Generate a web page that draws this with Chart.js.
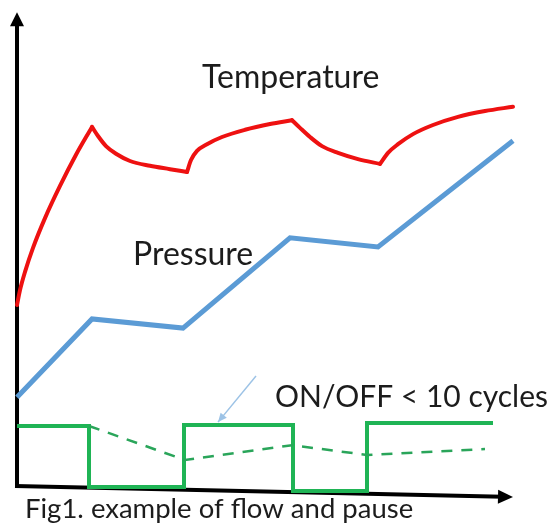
<!DOCTYPE html>
<html>
<head>
<meta charset="utf-8">
<script src="https://cdn.jsdelivr.net/npm/chart.js@4.4.1/dist/chart.umd.min.js"></script>
<style>
  html, body { margin: 0; padding: 0; background: #fff; }
</style>
</head>
<body>
<canvas id="flow" width="554" height="527"></canvas>
<script>
// values (time 0-100, level 0-100)
const tempX = [0, 0.6, 1.6, 3.2, 5.6, 8.6, 11.8, 15.0,
  16.2, 17.8, 19.8, 22.6, 26.6, 30.6, 34.0,
  34.8, 36.0, 38.0, 41.0, 45.6, 50.6, 55.0,
  56.6, 58.6, 61.0, 64.2, 68.2, 72.6,
  74.2, 76.2, 79.2, 83.2, 88.2, 93.6, 99.2];
const tempY = [40.0, 43.1, 46.9, 51.9, 58.1, 64.8, 71.3, 77.1,
  75.2, 73.1, 71.5, 70.0, 69.0, 68.3, 67.7,
  70.2, 72.1, 73.5, 75.0, 76.5, 77.7, 78.5,
  76.9, 75.0, 73.1, 71.7, 70.4, 69.4,
  71.7, 73.5, 75.6, 77.5, 79.2, 80.4, 81.3];
// indexes where the temperature curve has a sharp corner
const tempCusps = [0, 7, 14, 21, 27, 34];

const pressX = [0, 15.0, 33.2, 54.6, 72.2, 99.2];
const pressY = [20.8, 37.1, 35.2, 54.0, 52.1, 74.2];

// ON/OFF flow, stepped
const flowX = [0, 14.4, 33.4, 55.2, 70.0, 95.2];
const flowY = [14.8, 2.1, 15.0, 1.25, 15.4, 15.4];

// averaged flow, dashed
const avgX = [14.4, 33.6, 55.0, 70.0, 93.6];
const avgY = [14.8, 7.7, 10.8, 8.75, 10.0];

const labels = {
  temp: 'Temperature',
  press: 'Pressure',
  onoff: 'ON/OFF < 10 cycles',
  caption: 'Fig1. example of flow and pause'
};

function pts(xs, ys) {
  return xs.map((x, i) => ({ x: x, y: ys[i] }));
}

const datasets = [];
// one dataset per temperature piece so the corners stay sharp
for (let s = 0; s < tempCusps.length - 1; s++) {
  const a = tempCusps[s], b = tempCusps[s + 1] + 1;
  datasets.push({
    data: pts(tempX.slice(a, b), tempY.slice(a, b)),
    borderColor: '#ee1111',
    borderWidth: 4,
    cubicInterpolationMode: 'monotone',
    borderCapStyle: 'round'
  });
}
datasets.push({
  data: pts(pressX, pressY),
  borderColor: '#5b9bd5',
  borderWidth: 5,
  tension: 0
});
datasets.push({
  data: pts(avgX, avgY),
  borderColor: '#2aa55a',
  borderWidth: 2.5,
  borderDash: [11, 9],
  tension: 0
});
datasets.push({
  data: pts(flowX, flowY),
  borderColor: '#1fb455',
  borderWidth: 4,
  stepped: 'before',
  borderJoinStyle: 'miter'
});

function arrowHead(ctx, x1, y1, x2, y2, len, half) {
  const ang = Math.atan2(y2 - y1, x2 - x1);
  ctx.beginPath();
  ctx.moveTo(x2, y2);
  ctx.lineTo(x2 - len * Math.cos(ang) + half * Math.sin(ang), y2 - len * Math.sin(ang) - half * Math.cos(ang));
  ctx.lineTo(x2 - len * Math.cos(ang) - half * Math.sin(ang), y2 - len * Math.sin(ang) + half * Math.cos(ang));
  ctx.closePath();
  ctx.fill();
}

const sketch = {
  id: 'sketch',
  beforeDatasetsDraw(chart) {
    const ctx = chart.ctx, xs = chart.scales.x, ys = chart.scales.y;
    ctx.save();
    ctx.strokeStyle = '#000';
    ctx.fillStyle = '#000';
    ctx.lineWidth = 4;
    // y axis
    const x0 = xs.getPixelForValue(0);
    const yb = ys.getPixelForValue(2.3), yt = ys.getPixelForValue(101);
    ctx.beginPath();
    ctx.moveTo(x0, yb);
    ctx.lineTo(x0, yt + 10);
    ctx.stroke();
    arrowHead(ctx, x0, yb, x0, yt, 14, 7);
    // x axis, drawn a little tilted like the sketch
    const xe = xs.getPixelForValue(99.2), ye = ys.getPixelForValue(0);
    ctx.beginPath();
    ctx.moveTo(x0 - 2, yb);
    ctx.lineTo(xe - 10, ye - 0.2);
    ctx.stroke();
    arrowHead(ctx, x0, yb, xe, ye, 15, 7);
    ctx.restore();
  },
  afterDatasetsDraw(chart) {
    const ctx = chart.ctx, xs = chart.scales.x, ys = chart.scales.y;
    ctx.save();
    // thin pointer to the ON/OFF line
    const ax1 = xs.getPixelForValue(47.8), ay1 = ys.getPixelForValue(25.2);
    const ax2 = xs.getPixelForValue(40.2), ay2 = ys.getPixelForValue(15.6);
    ctx.strokeStyle = '#9dc3e6';
    ctx.fillStyle = '#9dc3e6';
    ctx.lineWidth = 1.5;
    ctx.beginPath();
    ctx.moveTo(ax1, ay1);
    ctx.lineTo(ax2, ay2);
    ctx.stroke();
    arrowHead(ctx, ax1, ay1, ax2, ay2, 9, 4);

    ctx.fillStyle = '#1c1c1c';
    ctx.textBaseline = 'alphabetic';
    ctx.textAlign = 'left';
    ctx.font = '32px Lato';
    ctx.fillText(labels.temp, 202, 88);
    ctx.fillText(labels.press, 133, 265);
    ctx.font = '30px Lato';
    ctx.fillText(labels.onoff, 275, 407);
    ctx.font = '27.5px Lato';
    ctx.fillText(labels.caption, 25, 518);
    ctx.restore();
  }
};

new Chart(document.getElementById('flow'), {
  type: 'line',
  data: { datasets: datasets },
  options: {
    responsive: false,
    animation: false,
    layout: { padding: { left: 17, right: 37, top: 17, bottom: 30 } },
    elements: { point: { radius: 0 }, line: { fill: false } },
    plugins: { legend: { display: false }, tooltip: { enabled: false } },
    scales: {
      x: { type: 'linear', min: 0, max: 100, display: false },
      y: { type: 'linear', min: 0, max: 100, display: false }
    },
    clip: false
  },
  plugins: [sketch]
});
</script>
</body>
</html>
